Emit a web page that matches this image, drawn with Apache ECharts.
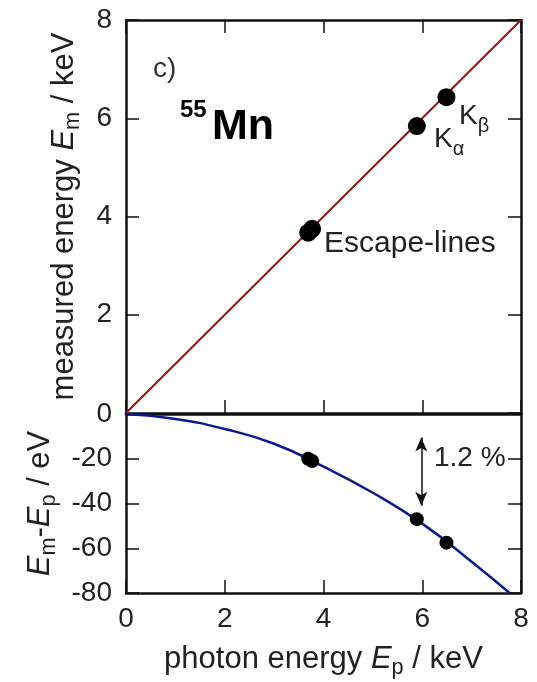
<!DOCTYPE html>
<html lang="en">
<head>
<meta charset="UTF-8"/>
<title>55Mn energy calibration</title>
<script src="https://cdn.jsdelivr.net/npm/echarts@6/dist/echarts.min.js"></script>
<style>html,body{margin:0;padding:0;background:#fff;} #main{width:537px;height:682px;}</style>
</head>
<body>
<div id="main"></div>
<script type="text/javascript">
// data
var linePhoton = [0, 8];
var lineMeasured = [0, 8];
var peakPhoton = [3.69, 3.77, 5.89, 6.49];
var peakMeasured = [3.67, 3.75, 5.84, 6.43];
var peakDiff = [-20, -21, -47, -57.5];
var curvePhoton = [0, 1, 2, 3, 4, 5, 6, 7, 7.77];
var curveDiff = [0, -2.2, -6.7, -13.3, -23.5, -35.2, -49, -66, -80];
var arrowX = 5.98;
var arrowTop = -10.5;
var arrowBottom = -41;

function zip(a, b) {
    var out = [];
    for (var i = 0; i < a.length; i++) out.push([a[i], b[i]]);
    return out;
}

var font = 'Liberation Sans';
var ink = '#222';
var axisLine = {show: true, onZero: false, lineStyle: {color: '#111', width: 2.5}};
var tickIn = {show: true, inside: true, length: 13, lineStyle: {color: '#111', width: 1.5}};
var noLabel = {show: false};
var tickLabel = {show: true, color: ink, fontFamily: font, fontSize: 28, margin: 12};

function nameRich(size) {
    return {
        t: {fontFamily: font, fontSize: size, color: ink},
        i: {fontFamily: font, fontSize: size, color: ink, fontStyle: 'italic'},
        s: {fontFamily: font, fontSize: size * 0.7, color: ink, padding: [18, 0, 0, 0]}
    };
}

function subRich() {
    return {
        k: {fontFamily: font, fontSize: 28, fill: ink},
        s: {fontFamily: font, fontSize: 20, fill: ink, padding: [20, 0, 0, 0]}
    };
}

var myChart = echarts.init(document.getElementById('main'));

var option = {
    animation: false,
    backgroundColor: '#fff',
    grid: [
        {left: 126, top: 20, width: 395, height: 393},
        {left: 126, top: 414, width: 395, height: 179}
    ],
    xAxis: [
        {gridIndex: 0, type: 'value', min: 0, max: 8, interval: 2, position: 'bottom',
            axisLine: axisLine, axisTick: tickIn, axisLabel: noLabel, splitLine: {show: false}},
        {gridIndex: 0, type: 'value', min: 0, max: 8, interval: 2, position: 'top',
            axisLine: axisLine, axisTick: tickIn, axisLabel: noLabel, splitLine: {show: false}},
        {gridIndex: 1, type: 'value', min: 0, max: 8, interval: 2, position: 'bottom',
            axisLine: axisLine, axisTick: tickIn, axisLabel: tickLabel, splitLine: {show: false},
            name: '{t|photon energy }{i|E}{s|p}{t| / keV}', nameLocation: 'middle', nameGap: 46,
            nameTextStyle: {rich: nameRich(31)}},
        {gridIndex: 1, type: 'value', min: 0, max: 8, interval: 2, position: 'top',
            axisLine: axisLine, axisTick: {show: false}, axisLabel: noLabel, splitLine: {show: false}}
    ],
    yAxis: [
        {gridIndex: 0, type: 'value', min: 0, max: 8, interval: 2, position: 'left',
            axisLine: axisLine, axisTick: tickIn, splitLine: {show: false},
            axisLabel: {show: true, color: ink, fontFamily: font, fontSize: 28, margin: 14, showMinLabel: false},
            name: '{t|measured energy }{i|E}{s|m}{t| / keV}', nameLocation: 'middle', nameGap: 42,
            nameTextStyle: {rich: nameRich(31)}},
        {gridIndex: 0, type: 'value', min: 0, max: 8, interval: 2, position: 'right',
            axisLine: axisLine, axisTick: tickIn, axisLabel: noLabel, splitLine: {show: false}},
        {gridIndex: 1, type: 'value', min: -80, max: 0, interval: 20, position: 'left',
            axisLine: axisLine, axisTick: tickIn, splitLine: {show: false},
            axisLabel: {show: true, color: ink, fontFamily: font, fontSize: 28, margin: 14},
            name: '{i|E}{s|m}{t|-}{i|E}{s|p}{t| / eV}', nameLocation: 'middle', nameGap: 66,
            nameTextStyle: {rich: nameRich(31)}},
        {gridIndex: 1, type: 'value', min: -80, max: 0, interval: 20, position: 'right',
            axisLine: axisLine, axisTick: tickIn, axisLabel: noLabel, splitLine: {show: false}}
    ],
    series: [
        {
            type: 'line', xAxisIndex: 0, yAxisIndex: 0, data: zip(linePhoton, lineMeasured),
            symbol: 'none', lineStyle: {color: '#8e1616', width: 2}, z: 2
        },
        {
            type: 'scatter', xAxisIndex: 0, yAxisIndex: 0, data: zip(peakPhoton, peakMeasured),
            symbolSize: 18, itemStyle: {color: '#000', opacity: 1}, z: 3
        },
        {
            type: 'line', xAxisIndex: 2, yAxisIndex: 2, data: zip(curvePhoton, curveDiff),
            smooth: true, symbol: 'none', lineStyle: {color: '#0c1a8c', width: 2.5}, z: 2,
            markLine: {
                silent: true, symbol: ['arrow', 'arrow'], symbolSize: [9, 14],
                label: {show: false},
                lineStyle: {color: '#111', width: 1.5, type: 'solid'},
                data: [[{coord: [arrowX, arrowTop]}, {coord: [arrowX, arrowBottom]}]]
            }
        },
        {
            type: 'scatter', xAxisIndex: 2, yAxisIndex: 2, data: zip(peakPhoton, peakDiff),
            symbolSize: 14, itemStyle: {color: '#000', opacity: 1}, z: 3
        }
    ],
    graphic: [
        {type: 'text', left: 153, top: 55, style: {text: 'c)', fill: '#333', font: '28px Liberation Sans'}},
        {type: 'text', left: 180, top: 98, style: {text: '55', fill: '#000', font: 'bold 24px Liberation Sans'}},
        {type: 'text', left: 212, top: 106, style: {text: 'Mn', fill: '#000', font: 'bold 43px Liberation Sans'}},
        {type: 'text', left: 459, top: 102, style: {text: '{k|K}{s|β}', rich: subRich()}},
        {type: 'text', left: 434, top: 125, style: {text: '{k|K}{s|α}', rich: subRich()}},
        {type: 'text', left: 324, top: 229, style: {text: 'Escape-lines', fill: ink, font: '30px Liberation Sans'}},
        {type: 'text', left: 434, top: 444, style: {text: '1.2 %', fill: ink, font: '28px Liberation Sans'}}
    ]
};

myChart.setOption(option);
</script>
</body>
</html>
